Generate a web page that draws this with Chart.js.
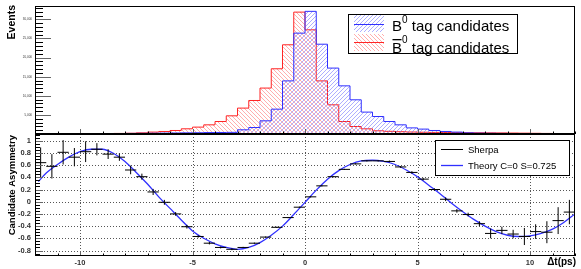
<!DOCTYPE html>
<html lang="en">
<head>
<meta charset="UTF-8" />
<title>B0 tag candidates and asymmetry</title>
<script src="https://cdn.jsdelivr.net/npm/chart.js"></script>
<style>
  html, body { margin: 0; padding: 0; background: #fff; }
  #wrap { position: relative; width: 581px; height: 269px; }
  #wrap canvas { position: absolute; left: 0; }
  #topChart { top: 0; }
  #botChart { top: 134px; }
</style>
</head>
<body>
<div id="wrap">
  <canvas id="topChart" width="581" height="134"></canvas>
  <canvas id="botChart" width="581" height="135"></canvas>
</div>
<script>
  const FONT = '"Liberation Sans", Arial, Helvetica, sans-serif';
  const BLUE = '#3030ff';
  const RED = '#ff2424';

  // 48 bins of 0.5 ps from -12 to 12
  const binStart = -12;
  const binWidth = 0.5;
  const b0Counts = [
    50, 60, 70, 80, 90, 100, 110, 130, 150, 170,
    200, 230, 260, 300, 330, 380, 400, 430, 1100, 1700,
    3450, 6500, 13900, 26400, 32100, 23500, 17250, 12600, 8950, 5730,
    4580, 3270, 2400, 1600, 1280, 920, 660, 500, 300, 220,
    180, 150, 130, 110, 100, 90, 80, 70
  ];
  const b0barCounts = [
    60, 70, 80, 90, 100, 110, 130, 150, 200, 300,
    500, 660, 920, 1360, 1800, 2400, 3270, 4760, 6780, 8770,
    12020, 17070, 23350, 31900, 27270, 13900, 7640, 3270, 1960, 1360,
    840, 700, 600, 520, 460, 420, 380, 360, 340, 320,
    300, 280, 250, 220, 180, 150, 120, 100
  ];
  const eventTicks = [5000, 10000, 15000, 20000, 25000, 30000];

  // Sherpa asymmetry points (bin centres)
  const asymT = [
    -11.75, -11.25, -10.75, -10.25, -9.75, -9.25, -8.75, -8.25, -7.75, -7.25,
    -6.75, -6.25, -5.75, -5.25, -4.75, -4.25, -3.75, -3.25, -2.75, -2.25,
    -1.75, -1.25, -0.75, -0.25, 0.25, 0.75, 1.25, 1.75, 2.25, 2.75,
    3.25, 3.75, 4.25, 4.75, 5.25, 5.75, 6.25, 6.75, 7.25, 7.75,
    8.25, 8.75, 9.25, 9.75, 10.25, 10.75, 11.25, 11.75
  ];
  const asymVal = [
    0.64, 0.58, 0.81, 0.73, 0.82, 0.86, 0.78, 0.73, 0.52, 0.41,
    0.16, -0.01, -0.20, -0.41, -0.57, -0.68, -0.75, -0.78, -0.75, -0.68,
    -0.58, -0.42, -0.26, -0.09, 0.08, 0.26, 0.41, 0.53, 0.62, 0.67,
    0.67, 0.66, 0.57, 0.48, 0.37, 0.20, 0.04, -0.15, -0.21, -0.36,
    -0.52, -0.47, -0.53, -0.57, -0.49, -0.50, -0.31, -0.17
  ];
  const asymErr = [
    0.25, 0.20, 0.20, 0.15, 0.17, 0.10, 0.08, 0.06, 0.07, 0.05,
    0.05, 0.04, 0.03, 0.03, 0.02, 0.02, 0.015, 0.015, 0.01, 0.01,
    0.01, 0.01, 0.01, 0.01, 0.01, 0.01, 0.01, 0.01, 0.01, 0.01,
    0.01, 0.015, 0.015, 0.02, 0.02, 0.02, 0.03, 0.03, 0.03, 0.04,
    0.08, 0.06, 0.07, 0.14, 0.12, 0.18, 0.22, 0.20
  ];

  // Theory curve C=0 S=0.725
  const theoryT = [
    -11.85, -11.5, -11, -10.5, -10, -9.5, -9, -8.5, -8, -7.5,
    -7, -6.5, -6, -5.5, -5, -4.5, -4, -3.5, -3, -2.5,
    -2, -1.5, -1, -0.5, 0, 0.5, 1, 1.5, 2, 2.5,
    3, 3.5, 4, 4.5, 5, 5.5, 6, 6.5, 7, 7.5,
    8, 8.5, 9, 9.5, 10, 10.5, 11, 11.5, 12
  ];
  const theoryA = [
    0.33, 0.47, 0.61, 0.73, 0.82, 0.86, 0.86, 0.79, 0.66, 0.48,
    0.29, 0.08, -0.11, -0.30, -0.48, -0.60, -0.69, -0.75, -0.78, -0.75,
    -0.67, -0.55, -0.40, -0.21, -0.01, 0.19, 0.37, 0.51, 0.61, 0.67,
    0.68, 0.66, 0.61, 0.52, 0.41, 0.27, 0.13, -0.02, -0.16, -0.29,
    -0.40, -0.49, -0.55, -0.57, -0.56, -0.52, -0.45, -0.34, -0.20
  ];

  const dtTicks = [-10, -5, 0, 5, 10];
  const asymTicks = [-0.8, -0.6, -0.4, -0.2, 0, 0.2, 0.4, 0.6, 0.8, 1];

  // diagonal hatch tile, one thin line per tile
  function hatch(color, up) {
    const s = 4;
    const c = document.createElement('canvas');
    c.width = s; c.height = s;
    const g = c.getContext('2d');
    g.fillStyle = color;
    for (let i = 0; i < s; i++) {
      const px = up ? s - 1 - i : i;
      g.fillRect(px, i, 1, 1);
    }
    return g.createPattern(c, 'repeat');
  }

  function histPoints(counts) {
    const end = binStart + counts.length * binWidth;
    const pts = [{ x: binStart, y: 0 }];
    counts.forEach((c, i) => pts.push({ x: binStart + i * binWidth, y: c }));
    pts.push({ x: end, y: counts[counts.length - 1] });
    pts.push({ x: end, y: 0 });
    return pts;
  }

  function errorSegments() {
    const pts = [];
    const h = binWidth / 2;
    asymT.forEach((t, i) => {
      const v = asymVal[i], e = asymErr[i];
      pts.push({ x: t - h, y: v }, { x: t + h, y: v }, { x: t + h, y: null },
               { x: t, y: v - e }, { x: t, y: v + e }, { x: t, y: null });
    });
    return pts;
  }

  function eachTick(min, max, step, major, fn) {
    const n0 = Math.ceil(min / step - 1e-9), n1 = Math.floor(max / step + 1e-9);
    for (let n = n0; n <= n1; n++) {
      const v = n * step, r = v / major;
      fn(v, Math.abs(r - Math.round(r)) < 1e-6);
    }
  }

  // ROOT-like frame: inner ticks, dotted grid, border, extra text
  function decor(cfg) {
    return {
      id: 'decor',
      beforeDatasetsDraw(chart) {
        if (!cfg.grid) return;
        const { ctx, chartArea: a, scales: { x, y } } = chart;
        ctx.save();
        ctx.strokeStyle = '#555';
        ctx.lineWidth = 1;
        ctx.setLineDash([1, 2]);
        ctx.beginPath();
        cfg.gridY.forEach(v => {
          const py = Math.round(y.getPixelForValue(v)) + 0.5;
          ctx.moveTo(a.left, py); ctx.lineTo(a.right, py);
        });
        cfg.gridX.forEach(v => {
          const px = Math.round(x.getPixelForValue(v)) + 0.5;
          ctx.moveTo(px, a.top); ctx.lineTo(px, a.bottom);
        });
        ctx.stroke();
        ctx.restore();
      },
      afterDatasetsDraw(chart) {
        const { ctx, chartArea: a, scales: { x, y } } = chart;
        ctx.save();
        ctx.lineWidth = 1;
        eachTick(x.min, x.max, cfg.xMinor, cfg.xMajor, (v, major) => {
          const px = Math.round(x.getPixelForValue(v)) + 0.5;
          ctx.strokeStyle = major ? '#666' : '#000';
          ctx.beginPath();
          ctx.moveTo(px, a.bottom);
          ctx.lineTo(px, a.bottom - (major ? cfg.xMajorLen : cfg.xMinorLen));
          ctx.stroke();
        });
        eachTick(y.min, y.max, cfg.yMinor, cfg.yMajor, (v, major) => {
          const py = Math.round(y.getPixelForValue(v)) + 0.5;
          ctx.strokeStyle = major ? '#666' : '#000';
          ctx.beginPath();
          ctx.moveTo(a.left, py);
          ctx.lineTo(a.left + (major ? cfg.yMajorLen : cfg.yMinorLen), py);
          ctx.stroke();
        });
        ctx.strokeStyle = '#000';
        ctx.strokeRect(a.left + 0.5, a.top + 0.5, a.right - a.left - 1, a.bottom - a.top - 1);
        ctx.restore();
        ctx.save();
        cfg.extra(ctx, chart);
        ctx.restore();
      }
    };
  }

  function vTitle(ctx, text, x, y, size) {
    ctx.save();
    ctx.translate(x, y);
    ctx.rotate(-Math.PI / 2);
    ctx.font = `bold ${size}px ${FONT}`;
    ctx.fillStyle = '#000';
    ctx.textAlign = 'right';
    ctx.fillText(text, 0, 0);
    ctx.restore();
  }

  const blueHatch = hatch('rgba(120,120,255,0.6)', true);
  const redHatch = hatch('rgba(255,120,120,0.6)', false);

  function drawTopLegend(ctx) {
    ctx.fillStyle = '#fff';
    ctx.fillRect(348, 14, 169, 39);
    ctx.strokeStyle = '#000';
    ctx.lineWidth = 1;
    ctx.strokeRect(348.5, 14.5, 169, 39);
    const rows = [
      { pat: blueHatch, col: BLUE, top: 15, line: 24.5, base: 31, bar: false, sup: 8 },
      { pat: redHatch, col: RED, top: 34, line: 42.5, base: 53, bar: true, sup: 10 }
    ];
    rows.forEach(r => {
      ctx.fillStyle = r.pat;
      ctx.fillRect(354, r.top, 30, 17);
      ctx.strokeStyle = r.col;
      ctx.beginPath();
      ctx.moveTo(354, r.line); ctx.lineTo(384, r.line);
      ctx.stroke();
      ctx.fillStyle = '#000';
      ctx.textBaseline = 'alphabetic';
      ctx.textAlign = 'left';
      let x = 392;
      ctx.font = `15px ${FONT}`;
      ctx.fillText('B', x, r.base);
      const wB = ctx.measureText('B').width;
      if (r.bar) ctx.fillRect(x + 0.5, r.base - 14, wB - 1, 1.3);
      x += wB;
      ctx.font = `10px ${FONT}`;
      ctx.fillText('0', x, r.base - r.sup);
      x += ctx.measureText('0').width;
      ctx.font = `15px ${FONT}`;
      ctx.fillText(' tag candidates', x, r.base);
    });
  }

  function drawBottomLegend(ctx) {
    ctx.fillStyle = '#fff';
    ctx.fillRect(435, 6, 134, 35);
    ctx.strokeStyle = '#000';
    ctx.lineWidth = 1;
    ctx.strokeRect(435.5, 6.5, 134, 35);
    ctx.font = `9.5px ${FONT}`;
    ctx.textAlign = 'left';
    ctx.textBaseline = 'alphabetic';
    [['Sherpa', '#000', 15.5, 18.5], ['Theory C=0 S=0.725', BLUE, 31.5, 35]].forEach(([t, c, ly, by]) => {
      ctx.strokeStyle = c;
      ctx.lineWidth = c === '#000' ? 1 : 1.3;
      ctx.beginPath();
      ctx.moveTo(441, ly); ctx.lineTo(463, ly);
      ctx.stroke();
      ctx.fillStyle = '#000';
      ctx.fillText(t, 468, by);
    });
  }

  function noPad(s) { s.paddingTop = 0; s.paddingBottom = 0; s.paddingLeft = 0; s.paddingRight = 0; }

  new Chart(document.getElementById('topChart'), {
    type: 'line',
    data: {
      datasets: [
        { label: 'B0', data: histPoints(b0Counts), stepped: true, borderColor: BLUE, borderWidth: 1,
          backgroundColor: blueHatch, fill: 'origin', pointRadius: 0 },
        { label: 'B0bar', data: histPoints(b0barCounts), stepped: true, borderColor: RED, borderWidth: 1,
          backgroundColor: redHatch, fill: 'origin', pointRadius: 0 }
      ]
    },
    options: {
      responsive: false, animation: false, devicePixelRatio: 1,
      layout: { padding: { top: 6, right: 6, bottom: 0, left: 0 } },
      plugins: { legend: { display: false }, tooltip: { enabled: false } },
      scales: {
        x: { type: 'linear', min: -12, max: 12, display: false },
        y: {
          min: 0, max: 33500,
          afterBuildTicks(s) { s.ticks = eventTicks.map(v => ({ value: v })); },
          afterFit(s) { s.width = 35; noPad(s); },
          grid: { display: false, drawTicks: false }, border: { display: false },
          ticks: { autoSkip: false, padding: 3, color: '#333', font: { family: FONT, size: 3 } }
        }
      }
    },
    plugins: [decor({
      grid: false, xMinor: 1, xMajor: 5, xMajorLen: 5, xMinorLen: 2.5,
      yMinor: 1000, yMajor: 5000, yMajorLen: 16, yMinorLen: 8,
      extra(ctx) {
        vTitle(ctx, 'Events', 14.5, 5, 10.5);
        drawTopLegend(ctx);
      }
    })]
  });

  new Chart(document.getElementById('botChart'), {
    type: 'line',
    data: {
      datasets: [
        { label: 'Sherpa', data: errorSegments(), borderColor: '#000', borderWidth: 1, pointRadius: 0,
          fill: false, spanGaps: false },
        { label: 'Theory C=0 S=0.725', data: theoryT.map((t, i) => ({ x: t, y: theoryA[i] })),
          borderColor: BLUE, borderWidth: 1.3, pointRadius: 0, fill: false, cubicInterpolationMode: 'monotone' }
      ]
    },
    options: {
      responsive: false, animation: false, devicePixelRatio: 1,
      layout: { padding: { top: 0, right: 6, bottom: 0, left: 0 } },
      plugins: { legend: { display: false }, tooltip: { enabled: false } },
      scales: {
        x: {
          type: 'linear', min: -12, max: 12,
          afterBuildTicks(s) { s.ticks = dtTicks.map(v => ({ value: v })); },
          afterFit(s) { s.height = 13; noPad(s); },
          grid: { display: false, drawTicks: false }, border: { display: false },
          ticks: { autoSkip: false, maxRotation: 0, padding: 2, color: '#333',
                   font: { family: FONT, size: 7.5, weight: 'bold' } }
        },
        y: {
          min: -0.89, max: 1.11,
          afterBuildTicks(s) { s.ticks = asymTicks.map(v => ({ value: v })); },
          afterFit(s) { s.width = 35; noPad(s); },
          grid: { display: false, drawTicks: false }, border: { display: false },
          ticks: { autoSkip: false, padding: 4, color: '#333',
                   font: { family: FONT, size: 7.5, weight: 'bold' },
                   callback: v => String(Number(v.toFixed(1))) }
        }
      }
    },
    plugins: [decor({
      grid: true, gridX: dtTicks, gridY: asymTicks,
      xMinor: 1, xMajor: 5, xMajorLen: 5, xMinorLen: 2.5,
      yMinor: 0.05, yMajor: 0.2, yMajorLen: 8, yMinorLen: 5,
      extra(ctx) {
        vTitle(ctx, 'Candidate Asymmetry', 14.5, 1, 9.5);
        ctx.font = `bold 10px ${FONT}`;
        ctx.fillStyle = '#000';
        ctx.textAlign = 'right';
        ctx.fillText('\u0394t(ps)', 576, 131);
        drawBottomLegend(ctx);
      }
    })]
  });
</script>
</body>
</html>
